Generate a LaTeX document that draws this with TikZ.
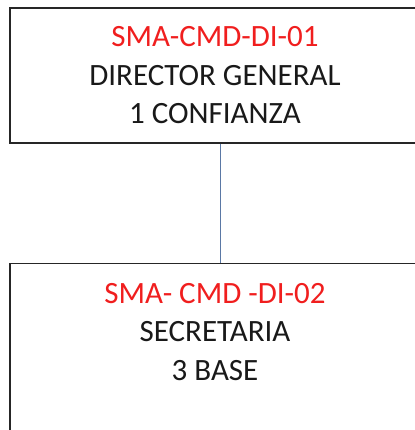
\documentclass[tikz,border=0pt]{standalone}
\usepackage{fontspec}
\setmainfont{Carlito}
\usetikzlibrary{positioning}
\definecolor{codered}{RGB}{240,30,30}
\definecolor{linkblue}{RGB}{90,120,165}
\tikzset{
  puesto/.style={draw=black!85, line width=1.4bp, minimum width=410bp, inner sep=0pt},
  cargo/.style={align=center, inner sep=0pt, text=black!90, font=\fontsize{31bp}{38.5bp}\selectfont},
  enlace/.style={draw=linkblue, line width=1bp}
}

\begin{document}
\begin{tikzpicture}[x=1bp,y=-1bp]

\useasboundingbox (0,0) rectangle (415,430);
\clip (0,0) rectangle (415,430);
\node[puesto, cargo, minimum height=135bp] (director) at (215,75.5) {\textcolor{codered}{SMA-CMD-DI-01}\\DIRECTOR GENERAL\\1 CONFIANZA};
\node[puesto, minimum height=210bp, anchor=north] (secretaria) at (215,263) {};
\node[cargo, below=20bp of secretaria.north] (secretariatxt) {\textcolor{codered}{SMA- CMD -DI-02}\\SECRETARIA\\3 BASE};
\draw[enlace] ([xshift=5bp]director.south) -- ([xshift=5bp]secretaria.north);

\end{tikzpicture}
\end{document}
